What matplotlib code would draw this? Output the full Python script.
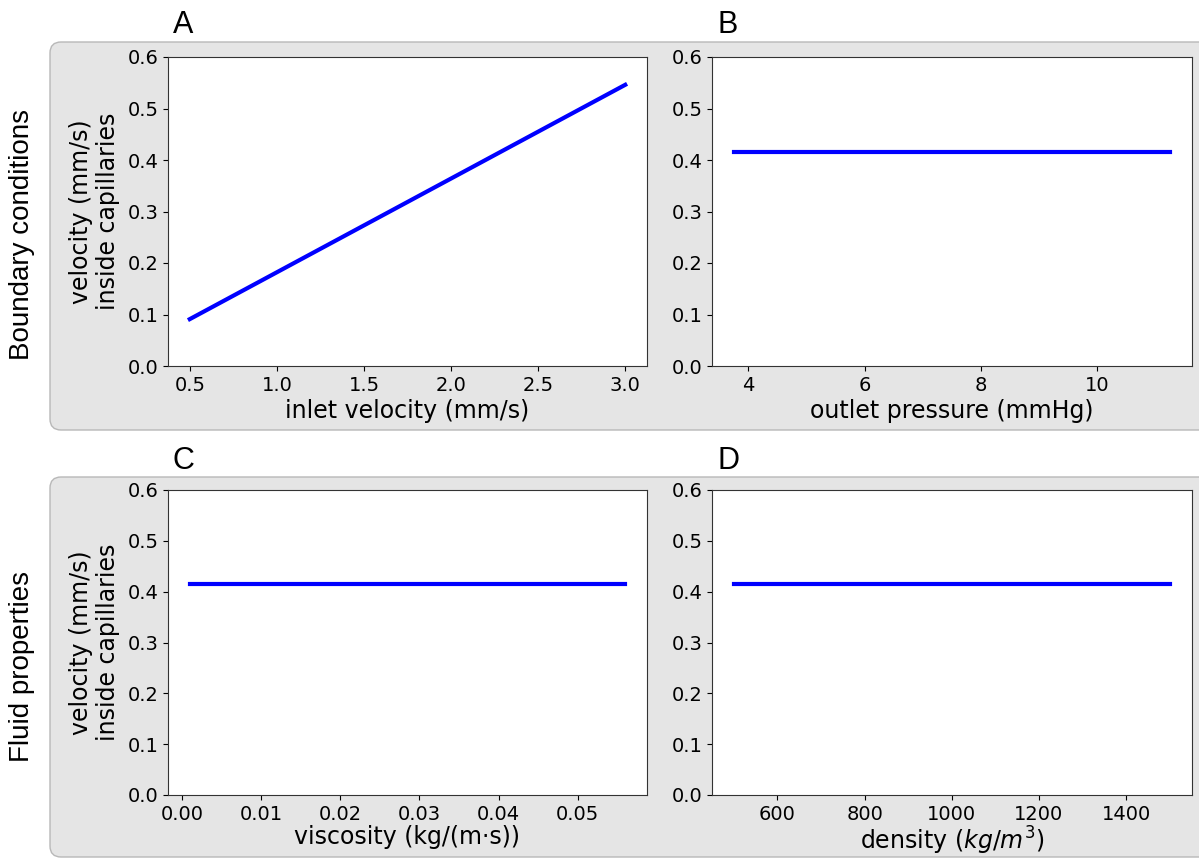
import matplotlib
matplotlib.use("Agg")
import matplotlib.pyplot as plt
from matplotlib.patches import FancyBboxPatch
from matplotlib.transforms import IdentityTransform

# Sensitivity of capillary velocity to model inputs
inlet_velocity = [0.5, 1.0, 1.5, 2.0, 2.5, 3.0]            # mm/s
vel_inlet = [0.091, 0.182, 0.273, 0.364, 0.455, 0.546]    # mm/s

outlet_pressure = [3.75, 5.625, 7.5, 9.375, 11.25]        # mmHg
vel_outlet = [0.415, 0.415, 0.415, 0.415, 0.415]

viscosity = [0.001, 0.0148, 0.0285, 0.0423, 0.056]        # kg/(m·s)
vel_viscosity = [0.415, 0.415, 0.415, 0.415, 0.415]

density = [500, 750, 1000, 1250, 1500]                    # kg/m^3
vel_density = [0.415, 0.415, 0.415, 0.415, 0.415]

row_titles = ["Boundary conditions", "Fluid properties"]
panel_letters = ["A", "B", "C", "D"]
ylabel_text = "velocity (mm/s)\ninside capillaries"

W, H, DPI = 1199, 860, 100
fig = plt.figure(figsize=(W / DPI, H / DPI), dpi=DPI)

TICK_FS = 14
LABEL_FS = 17

# rounded grey backgrounds for the two rows (pixel coordinates)
for (x0, y0, x1, y1) in [(50, 430, 1230, 818), (50, 3, 1230, 383)]:
    box = FancyBboxPatch((x0, y0), x1 - x0, y1 - y0,
                         boxstyle="round,pad=0,rounding_size=11",
                         transform=IdentityTransform(),
                         facecolor="#e5e5e5", edgecolor="#b8b8b8",
                         linewidth=1.0, zorder=-5)
    fig.patches.append(box)

def frac_box(left, top, right, bottom):
    return [left / W, 1 - bottom / H, (right - left) / W, (bottom - top) / H]

positions = [
    frac_box(168, 57, 647, 366),
    frac_box(712, 57, 1191.5, 366),
    frac_box(168, 490, 647, 795),
    frac_box(712, 490, 1191.5, 795),
]

series = [
    (inlet_velocity, vel_inlet, "inlet velocity (mm/s)", None),
    (outlet_pressure, vel_outlet, "outlet pressure (mmHg)", [4, 6, 8, 10]),
    (viscosity, vel_viscosity, "viscosity (kg/(m·s))", None),
    (density, vel_density, r"density ($kg/m^3$)", [600, 800, 1000, 1200, 1400]),
]

for i, (pos, (x, y, xlabel, xt)) in enumerate(zip(positions, series)):
    ax = fig.add_axes(pos)
    ax.plot(x, y, color="blue", linewidth=3)
    ax.set_ylim(0, 0.6)
    ax.set_yticks([0.0, 0.1, 0.2, 0.3, 0.4, 0.5, 0.6])
    if xt is not None:
        ax.set_xticks(xt)
    if i == 2:
        ax.set_xticks([0.0, 0.01, 0.02, 0.03, 0.04, 0.05])
        ax.set_xticklabels(["0.00", "0.01", "0.02", "0.03", "0.04", "0.05"])
    ax.set_xlabel(xlabel, fontsize=LABEL_FS, labelpad=3 if i < 2 else 1)
    ax.tick_params(labelsize=TICK_FS)
    for sp in ax.spines.values():
        sp.set_edgecolor("#333333")
    if i % 2 == 0:
        ax.set_ylabel(ylabel_text, fontsize=LABEL_FS, labelpad=5)
    ax.set_facecolor("white")

# panel letters
for letter, (px, py) in zip(panel_letters,
                            [(173, 33), (718, 33), (173, 469), (718, 469)]):
    fig.text(px / W, 1 - py / H, letter, fontsize=22,
             family="Liberation Sans", ha="left", va="baseline")

# row titles
for title, cy in zip(row_titles, [234, 667]):
    fig.text(22 / W, 1 - cy / H, title, fontsize=20,
             family="Liberation Sans", rotation=90,
             ha="center", va="center")

fig.savefig("out.png", dpi=DPI)
